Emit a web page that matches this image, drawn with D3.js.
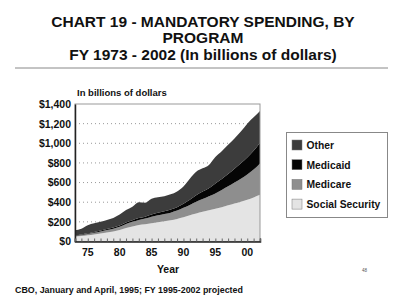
<!DOCTYPE html>
<html>
<head>
<meta charset="utf-8">
<script src="https://cdn.jsdelivr.net/npm/d3@7"></script>
<style>
  body { margin: 0; background: #fff; }
  svg { font-family: "Liberation Sans", Arial, sans-serif; font-weight: bold; }
</style>
</head>
<body>
<div id="chart"></div>
<script>
// fiscal years and spending by program, billions of dollars
var years = [1973, 1974, 1975, 1976, 1977, 1978, 1979, 1980, 1981, 1982,
             1983, 1984, 1985, 1986, 1987, 1988, 1989, 1990, 1991, 1992,
             1993, 1994, 1995, 1996, 1997, 1998, 1999, 2000, 2001, 2002];
var socialSecurity = [48, 55, 63, 72, 82, 92, 102, 117, 138, 154,
                      168, 176, 186, 197, 205, 216, 230, 247, 267, 285,
                      302, 317, 333, 350, 368, 386, 404, 424, 448, 475];
var medicare = [9, 11, 14, 17, 21, 24, 29, 32, 39, 46,
                52, 57, 65, 70, 75, 78, 85, 96, 104, 119,
                130, 144, 157, 175, 194, 214, 236, 259, 285, 320];
var medicaid = [5, 6, 7, 9, 10, 11, 12, 14, 17, 17,
                19, 20, 23, 25, 27, 31, 35, 41, 53, 68,
                76, 82, 100, 112, 126, 141, 157, 173, 190, 210];
var other = [53, 58, 81, 87, 87, 93, 97, 112, 126, 138,
             161, 142, 161, 158, 153, 155, 160, 176, 216, 238,
             237, 237, 270, 283, 297, 309, 323, 344, 342, 325];
var seriesNames = ["Social Security", "Medicare", "Medicaid", "Other"];
var yTicks = [0, 200, 400, 600, 800, 1000, 1200, 1400];
var xTickYears = [1975, 1980, 1985, 1990, 1995, 2000];

var W = 400, H = 307;
var plot = {left: 75, top: 104, right: 260, bottom: 241.5};

var svg = d3.select("#chart").append("svg")
    .attr("width", W)
    .attr("height", H);

// title block
var titles = [
  {t: "CHART 19 - MANDATORY SPENDING, BY", y: 27},
  {t: "PROGRAM", y: 43},
  {t: "FY 1973 - 2002 (In billions of dollars)", y: 60}
];
svg.selectAll(".title").data(titles).enter().append("text")
    .attr("class", "title")
    .attr("x", 203)
    .attr("y", function (d) { return d.y; })
    .attr("text-anchor", "middle")
    .attr("font-size", 15.5)
    .attr("fill", "#111")
    .text(function (d) { return d.t; });

svg.append("line")
    .attr("x1", 15).attr("x2", 388)
    .attr("y1", 68).attr("y2", 68)
    .attr("stroke", "#888").attr("stroke-width", 1);

svg.append("text")
    .attr("x", 77).attr("y", 96)
    .attr("font-size", 9.5)
    .attr("fill", "#111")
    .text("In billions of dollars");

var table = years.map(function (yr, i) {
  return {
    year: yr,
    "Social Security": socialSecurity[i],
    "Medicare": medicare[i],
    "Medicaid": medicaid[i],
    "Other": other[i]
  };
});

var x = d3.scaleLinear()
    .domain([years[0], years[years.length - 1]])
    .range([plot.left, plot.right]);

var y = d3.scaleLinear()
    .domain([0, 1400])
    .range([plot.bottom, plot.top]);

var color = d3.scaleOrdinal()
    .domain(seriesNames)
    .range(["#e4e4e4", "#8e8e8e", "#050505", "#3c3c3c"]);

// plot background
svg.append("rect")
    .attr("x", plot.left).attr("y", plot.top)
    .attr("width", plot.right - plot.left)
    .attr("height", plot.bottom - plot.top)
    .attr("fill", "#fff");

// dotted gridlines
svg.selectAll(".grid").data(yTicks.slice(1, -1)).enter().append("line")
    .attr("class", "grid")
    .attr("x1", plot.left).attr("x2", plot.right)
    .attr("y1", function (d) { return y(d); })
    .attr("y2", function (d) { return y(d); })
    .attr("stroke", "#999")
    .attr("stroke-width", 1)
    .attr("stroke-dasharray", "1,3");

var stack = d3.stack().keys(seriesNames);
var layers = stack(table);

var area = d3.area()
    .x(function (d) { return x(d.data.year); })
    .y0(function (d) { return y(d[0]); })
    .y1(function (d) { return y(d[1]); })
    .curve(d3.curveMonotoneX);

svg.selectAll(".layer").data(layers).enter().append("path")
    .attr("class", "layer")
    .attr("d", area)
    .attr("fill", function (d) { return color(d.key); });

// frame
svg.append("rect")
    .attr("x", plot.left).attr("y", plot.top)
    .attr("width", plot.right - plot.left)
    .attr("height", plot.bottom - plot.top)
    .attr("fill", "none")
    .attr("stroke", "#999")
    .attr("stroke-width", 1);

// y axis
var yAxis = d3.axisLeft(y)
    .tickValues(yTicks)
    .tickSize(0)
    .tickPadding(4)
    .tickFormat(function (d) { return "$" + d3.format(",")(d); });

var gy = svg.append("g")
    .attr("transform", "translate(" + plot.left + ",0)")
    .call(yAxis);
gy.select(".domain").attr("stroke", "#222").attr("stroke-width", 1.5);
gy.selectAll("text")
    .attr("font-size", 10.5)
    .attr("font-family", "Liberation Sans, Arial, sans-serif")
    .attr("font-weight", "bold")
    .attr("fill", "#111");

// x axis with a small tick every year
var xAxis = d3.axisBottom(x)
    .tickValues(years)
    .tickSize(-3)
    .tickFormat("");

var gx = svg.append("g")
    .attr("transform", "translate(0," + plot.bottom + ")")
    .call(xAxis);
gx.select(".domain").attr("stroke", "#222").attr("stroke-width", 1.5);
gx.selectAll(".tick line").attr("stroke", "#666");

svg.selectAll(".xlab").data(xTickYears).enter().append("text")
    .attr("class", "xlab")
    .attr("x", function (d) { return x(d); })
    .attr("y", 256)
    .attr("text-anchor", "middle")
    .attr("font-size", 10.5)
    .attr("fill", "#111")
    .text(function (d) { return String(d).slice(2); });

svg.append("text")
    .attr("x", 168).attr("y", 273)
    .attr("text-anchor", "middle")
    .attr("font-size", 10.5)
    .attr("fill", "#111")
    .text("Year");

// legend
var lg = svg.append("g");
lg.append("rect")
    .attr("x", 286.5).attr("y", 132.5)
    .attr("width", 101).attr("height", 85)
    .attr("fill", "#fff")
    .attr("stroke", "#888");

var legendOrder = seriesNames.slice().reverse();
var rows = lg.selectAll(".lrow").data(legendOrder).enter().append("g")
    .attr("class", "lrow")
    .attr("transform", function (d, i) { return "translate(292," + (145 + i * 19.7) + ")"; });
rows.append("rect")
    .attr("x", 0).attr("y", -5)
    .attr("width", 10).attr("height", 10)
    .attr("fill", function (d) { return color(d); })
    .attr("stroke", "#777")
    .attr("stroke-width", 0.5);
rows.append("text")
    .attr("x", 14.5).attr("y", 4)
    .attr("font-size", 10.3)
    .attr("fill", "#111")
    .text(function (d) { return d; });

// footer
svg.append("text")
    .attr("x", 15).attr("y", 293)
    .attr("font-size", 8.9)
    .attr("fill", "#111")
    .text("CBO, January and April, 1995; FY 1995-2002 projected");

svg.append("text")
    .attr("x", 362).attr("y", 272)
    .attr("font-size", 4.5)
    .attr("font-weight", "normal")
    .attr("fill", "#555")
    .text("48");
</script>
</body>
</html>
